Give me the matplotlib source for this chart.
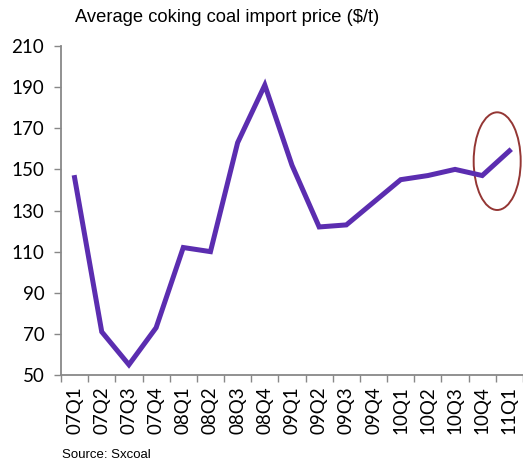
import matplotlib.pyplot as plt
from matplotlib.patches import Ellipse
import numpy as np

# quarterly coking coal import prices, $/t
quarters = ['07Q1', '07Q2', '07Q3', '07Q4', '08Q1', '08Q2', '08Q3', '08Q4',
            '09Q1', '09Q2', '09Q3', '09Q4', '10Q1', '10Q2', '10Q3', '10Q4', '11Q1']
price = [146, 71, 55, 73, 112, 110, 163, 191,
         152, 122, 123, 134, 145, 147, 150, 147, 159]
y_ticks = [50, 70, 90, 110, 130, 150, 170, 190, 210]

plt.rcParams['font.family'] = ['Liberation Sans', 'DejaVu Sans']

fig = plt.figure(figsize=(5.23, 4.68), dpi=100)
ax = fig.add_axes([0.1166, 0.1987, 0.8834, 0.703])

x = np.arange(len(quarters))
ax.plot(x, price, color='#5B2DB0', lw=3.6, solid_joinstyle='miter', clip_on=False)

# highlight the latest quarters
ax.add_patch(Ellipse((15.55, 154), 1.73, 47.5, fill=False,
                     edgecolor='#943634', lw=1.4, clip_on=False))

ax.set_xlim(-0.5, len(quarters) - 0.5)
ax.set_ylim(50, 210)
ax.set_yticks(y_ticks)
ax.tick_params(axis='y', length=5, width=1, color='#888888', pad=7)
for lbl in ax.get_yticklabels():
    lbl.set_fontfamily('Lato')
    lbl.set_fontsize(13.5)

# ticks sit between categories, labels on the categories
ax.set_xticks(np.arange(len(quarters) + 1) - 0.5)
ax.set_xticklabels([])
ax.set_xticks(x, minor=True)
ax.set_xticklabels(quarters, minor=True, rotation=90, fontsize=13.5, fontfamily='Lato')
ax.tick_params(axis='x', which='major', length=5, width=1, color='#888888', direction='out')
ax.tick_params(axis='x', which='minor', length=0, pad=8)

for s in ['top', 'right']:
    ax.spines[s].set_visible(False)
for s in ['left', 'bottom']:
    ax.spines[s].set_color('#888888')
    ax.spines[s].set_linewidth(1.3)

fig.text(0.143, 0.962, 'Average coking coal import price ($/t)', fontsize=13.2, va='center')
fig.text(0.118, 0.027, 'Source: Sxcoal', fontsize=9.5, va='center')

fig.savefig('out.png', dpi=100)
